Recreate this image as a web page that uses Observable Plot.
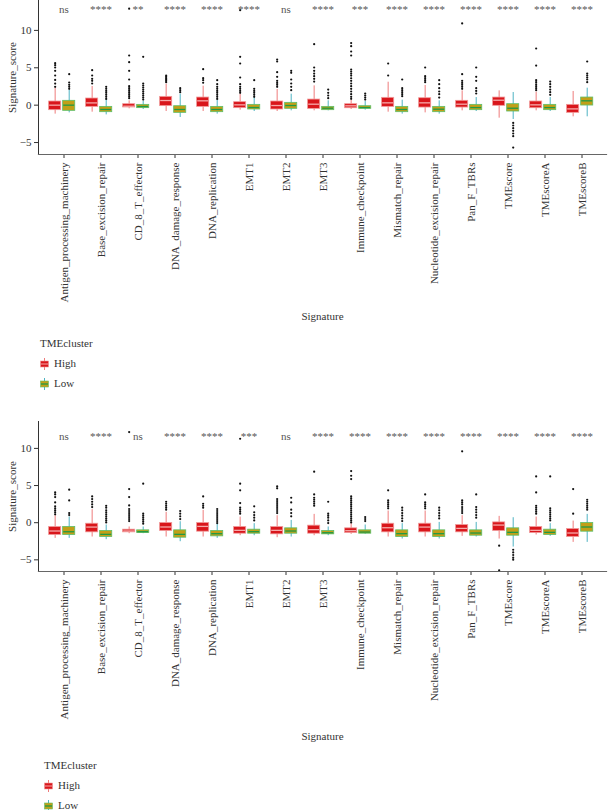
<!DOCTYPE html>
<html><head><meta charset="utf-8">
<script src="https://cdn.jsdelivr.net/npm/d3@7"></script>
<script src="https://cdn.jsdelivr.net/npm/@observablehq/plot@0.6"></script>
<style>
body{margin:0;background:#fff;font-family:"Liberation Serif",serif;}
#wrap{position:relative;width:609px;height:810px;overflow:hidden;background:#fff;}
.panel{position:absolute;left:0;}
.lg{position:absolute;font-size:11px;line-height:14px;color:#333;white-space:nowrap;}
.lg svg{vertical-align:middle;margin-right:5px;}
</style></head><body><div id="wrap"></div>
<script>
const signatures = ["Antigen_processing_machinery","Base_excision_repair","CD_8_T_effector","DNA_damage_response","DNA_replication","EMT1","EMT2","EMT3","Immune_checkpoint","Mismatch_repair","Nucleotide_excision_repair","Pan_F_TBRs","TMEscore","TMEscoreA","TMEscoreB"];
const clusters = ["High","Low"];
const yTicks = [-5,0,5,10];

// ---- top panel ----
const topSig = ["ns","****","**","****","****","****","ns","****","***","****","****","****","****","****","****"];
const topHighQ1  = [-0.67,-0.23,-0.31,-0.13,-0.23,-0.40,-0.58,-0.50,-0.41,-0.23,-0.32,-0.32,-0.09,-0.41,-1.03];
const topHighMed = [ 0.00, 0.30,-0.14, 0.62, 0.58, 0.04,-0.05, 0.13,-0.09, 0.31, 0.31, 0.13, 0.66, 0.04,-0.50];
const topHighQ3  = [ 0.49, 0.89, 0.13, 1.11, 1.02, 0.40, 0.49, 0.75, 0.13, 0.98, 0.93, 0.58, 1.02, 0.49, 0.04];
const topHighLo  = [-1.20,-0.94,-0.49,-0.85,-0.85,-0.67,-0.85,-0.76,-0.58,-0.94,-1.03,-0.76,-1.74,-0.76,-1.56];
const topHighHi  = [ 2.27, 2.50, 0.58, 2.80, 2.54, 1.47, 2.10, 2.58, 0.67, 3.07, 2.63, 1.91, 1.91, 1.74, 1.83];
const topHighOut = [
  [5.62,5.35,5.04,4.59,3.97,3.38,2.89,2.45],
  [4.68,3.97,3.52,3.25,2.9],
  [12.9,6.64,5.75,4.59,3.43,2.54,2.27,2.0,1.74,1.47,1.2,0.94],
  [3.97,3.79,3.61,3.43,3.25,3.08],
  [4.81,3.61,3.34,3.0],
  [12.7,6.46,5.57,3.7,2.81,2.45,2.18,1.91,1.65],
  [6.11,5.84,4.41,3.79,3.25,2.98,2.72,2.45],
  [8.16,5.04,4.59,4.23,3.88,3.52,3.16],
  [8.3,7.89,7.18,6.64,4.77,4.5,4.23,3.96,3.6,3.25,2.9,2.54,2.18,1.83,1.47,1.11,0.85],
  [5.57,3.97],
  [5.04,3.88,3.61,3.34,3.07],
  [10.93,4.15,3.25,2.98,2.72,2.45,2.18],
  [],
  [7.58,5.3,3.34,3.07,2.8,2.54,2.27,2.0],
  []
];
const topLowQ1  = [-0.76,-0.94,-0.40,-1.03,-0.94,-0.58,-0.49,-0.67,-0.49,-0.94,-0.94,-0.67,-0.85,-0.67,-0.05];
const topLowMed = [ 0.00,-0.58,-0.18,-0.58,-0.58,-0.31,-0.05,-0.41,-0.32,-0.58,-0.54,-0.32,-0.41,-0.32, 0.58];
const topLowQ3  = [ 0.58,-0.23, 0.04,-0.14,-0.23, 0.04, 0.31,-0.23,-0.14,-0.23,-0.23, 0.04, 0.13, 0.04, 1.02];
const topLowLo  = [-1.03,-1.30,-0.58,-1.65,-1.20,-0.85,-0.76,-0.76,-0.67,-1.20,-1.20,-0.85,-1.92,-0.85,-1.56];
const topLowHi  = [ 2.00, 0.75, 0.49, 1.47, 0.67, 1.02, 1.47, 0.58, 0.49, 0.67, 0.58, 1.02, 1.69, 1.02, 2.27];
const topLowOut = [
  [4.15,3.03,2.72,2.45,2.18],
  [2.45,2.18,1.91,1.65,1.38,1.11,0.84],
  [6.46,2.9,2.63,2.36,2.09,1.82,1.55,1.28,1.01,0.75],
  [2.27,2.0,1.74],
  [3.34,2.81,2.45,2.18,1.91,1.65,1.38,1.11,0.84],
  [3.34,2.18,1.91,1.65,1.38,1.11],
  [4.59,4.32,3.43,2.9,2.45,2.0],
  [2.09,1.65,1.29,0.93],
  [1.56,1.29,1.02,0.75],
  [3.43,2.27,2.0,1.74,1.47,1.2],
  [3.34,2.81,2.27,1.83,1.47,1.02],
  [5.04,3.79,3.25,2.27,1.91,1.56],
  [-2.37,-2.72,-3.08,-3.43,-3.79,-4.15,-5.68],
  [3.16,2.81,2.45,2.09,1.74,1.38],
  [5.84,4.23,3.97,3.7,3.43,3.07]
];

// ---- bottom panel ----
const botSig = ["ns","****","ns","****","****","***","ns","****","****","****","****","****","****","****","****"];
const botHighQ1  = [-1.66,-1.30,-1.30,-1.12,-1.21,-1.48,-1.57,-1.48,-1.39,-1.30,-1.30,-1.30,-1.12,-1.39,-1.93];
const botHighMed = [-1.12,-0.59,-1.12,-0.58,-0.50,-1.03,-1.03,-0.94,-1.08,-0.68,-0.59,-0.77,-0.32,-1.03,-1.39];
const botHighQ3  = [-0.58,-0.14,-0.94,-0.04,-0.04,-0.58,-0.58,-0.40,-0.76,-0.14,-0.14,-0.32, 0.04,-0.58,-0.85];
const botHighLo  = [-2.11,-1.93,-1.48,-1.93,-1.93,-1.75,-2.02,-1.75,-1.57,-1.93,-1.93,-1.84,-2.20,-1.66,-2.65];
const botHighHi  = [ 0.94, 1.75,-0.58, 1.39, 1.66, 0.76, 0.94, 1.12,-0.13, 1.57, 1.57, 0.94, 0.85, 0.76, 0.22];
const botHighOut = [
  [4.08,3.81,3.45,2.73,2.2,1.92,1.65,1.39,1.12],
  [3.54,3.18,2.82,2.46,2.1],
  [12.2,4.53,3.45,2.33,1.84,1.57,1.3,1.03,0.76,0.49,0.22],
  [2.82,2.55,2.28,2.02,1.75],
  [3.54,2.55,2.28,2.02],
  [11.3,5.25,4.35,2.64,2.02,1.75,1.48,1.21],
  [4.88,4.62,3.18,2.91,2.64,2.37,2.1,1.84,1.57,1.3],
  [6.86,3.81,3.36,3.09,2.82,2.55,2.28],
  [6.95,6.32,5.87,3.54,3.27,3.0,2.73,2.46,2.2,1.93,1.66,1.39,1.12,0.85,0.58,0.31,0.04],
  [4.35,3.0,2.73,2.46,2.2,1.93],
  [3.81,2.73,2.46,2.2,1.93],
  [9.6,3.0,2.73,2.46,2.1,1.84,1.57,1.3],
  [-3.1,-6.42],
  [6.23,4.08,2.28,2.02,1.75,1.48,1.21],
  [4.53,1.21]
];
const botLowQ1  = [-1.66,-1.93,-1.39,-2.02,-1.84,-1.48,-1.48,-1.57,-1.48,-1.93,-1.93,-1.75,-1.75,-1.66,-1.21];
const botLowMed = [-1.22,-1.57,-1.21,-1.57,-1.48,-1.21,-1.12,-1.35,-1.26,-1.48,-1.48,-1.39,-1.30,-1.30,-0.58];
const botLowQ3  = [-0.58,-1.12,-1.03,-1.03,-1.12,-0.94,-0.76,-1.12,-1.03,-1.03,-1.03,-1.03,-0.76,-0.94,-0.04];
const botLowLo  = [-2.11,-2.29,-1.48,-2.56,-2.11,-1.75,-1.93,-1.75,-1.57,-2.20,-2.20,-1.93,-3.28,-1.84,-2.65];
const botLowHi  = [ 0.76,-0.31,-0.58, 0.13,-0.13,-0.13, 0.31,-0.58,-0.31,-0.13, 0.04, 0.04, 0.67,-0.13, 1.12];
const botLowOut = [
  [4.44,3.0,1.3,1.03],
  [2.28,2.02,1.66,1.39,1.12,0.85,0.58,0.31,0.04],
  [5.25,1.21,0.94,0.67,0.4,0.13,-0.13],
  [1.57,1.21,0.85,0.49],
  [1.84,1.57,1.3,1.03,0.76,0.49,0.22,-0.05],
  [2.2,1.39,1.03,0.67,0.31],
  [3.36,2.73,1.75,1.3,0.85],
  [2.82,1.21,0.94,0.67,0.31,-0.05],
  [0.76,0.49,0.22],
  [2.02,1.66,1.3,0.94,0.58,0.22],
  [2.02,1.66,1.3,0.94,0.58],
  [3.81,2.1,1.75,1.39,1.03,0.67],
  [-3.64,-4.0,-4.35,-4.71,-4.98],
  [6.23,1.93,1.66,1.39,1.12,0.85,0.58,0.31],
  [3.09,2.82,2.55,2.28,2.02,1.75]
];

// ---- styles ----
const sty = {
  High: {fill:"#d9161b", stroke:"#f19a9a", med:"#f6a9a9", whisk:"#ee7b7b", dx:-8.85, inL:3.6, inR:21.3},
  Low:  {fill:"#c29f17", stroke:"#5cbf6a", med:"#1f9a45", whisk:"#4db3c2", dx:5.2, inL:17.65, inR:7.25}
};

function table(q1, med, q3, lo, hi) {
  return signatures.map((s, i) => ({sig: s, q1: q1[i], med: med[i], q3: q3[i], lo: lo[i], hi: hi[i]}));
}
function outs(arr) {
  return arr.flatMap((vals, i) => vals.map(v => ({sig: signatures[i], v})));
}

function groupMarks(stats, out, s) {
  return [
    Plot.ruleX(stats, {x: "sig", y1: "lo", y2: "hi", stroke: s.whisk, strokeWidth: 1, dx: s.dx}),
    Plot.dot(out, {x: "sig", y: "v", r: 1.1, fill: "#111", stroke: "none", dx: s.dx}),
    Plot.barY(stats, {x: "sig", y1: "q1", y2: "q3", fill: s.fill, stroke: s.stroke, strokeWidth: 0.8, insetLeft: s.inL, insetRight: s.inR}),
    Plot.tickY(stats, {x: "sig", y: "med", stroke: s.med, strokeWidth: 1.3, insetLeft: s.inL + 0.6, insetRight: s.inR + 0.6})
  ];
}

function panel(o) {
  return Plot.plot({
    width: 609, height: o.height,
    marginLeft: 38, marginRight: 3, marginTop: o.marginTop, marginBottom: o.marginBottom,
    style: {fontFamily: "'Liberation Serif', serif", fontSize: "11px", color: "#333", background: "#fff"},
    x: {type: "band", domain: signatures, paddingInner: 0, paddingOuter: 0.075, tickRotate: -90, tickSize: 4, tickPadding: 4,
        label: "Signature", labelAnchor: "center", labelArrow: "none", labelOffset: o.xLabelOffset},
    y: {domain: o.yDomain, ticks: yTicks, tickSize: 4, tickPadding: 3, label: "Signature_score", labelAnchor: "center", labelArrow: "none", labelOffset: 30},
    marks: [
      ...groupMarks(o.high, o.highOut, sty.High),
      ...groupMarks(o.low, o.lowOut, sty.Low),
      Plot.text(signatures, {x: d => d, text: (d, i) => o.sig[i], frameAnchor: "top", dy: o.sigDy, fontSize: 11, fill: "#555"}),
      Plot.frame({anchor: "left", stroke: "#333", strokeWidth: 1}),
      Plot.frame({anchor: "bottom", stroke: "#666", strokeWidth: 1.2})
    ]
  });
}

function legend(top, left) {
  const d = document.createElement("div");
  d.className = "lg"; d.style.top = top + "px"; d.style.left = left + "px";
  d.innerHTML =
    '<div style="height:20px">TMEcluster</div>' +
    '<div style="height:20px"><svg width="9" height="12"><line x1="4.5" x2="4.5" y1="0" y2="12" stroke="' + sty.High.whisk + '"/><rect x="0.5" y="3" width="8" height="6" fill="' + sty.High.fill + '" stroke="' + sty.High.stroke + '" stroke-width="0.6"/><line x1="1" x2="8" y1="6" y2="6" stroke="' + sty.High.med + '"/></svg>High</div>' +
    '<div style="height:20px"><svg width="9" height="12"><line x1="4.5" x2="4.5" y1="0" y2="12" stroke="' + sty.Low.whisk + '"/><rect x="0.5" y="3" width="8" height="6" fill="' + sty.Low.fill + '" stroke="' + sty.Low.stroke + '" stroke-width="0.6"/><line x1="1" x2="8" y1="6" y2="6" stroke="' + sty.Low.med + '" stroke-width="1.3"/></svg>Low</div>';
  return d;
}

const wrap = document.getElementById("wrap");

const p1 = panel({
  height: 330, marginTop: 0, marginBottom: 176, yDomain: [-6.6, 14.0], xLabelOffset: 165, sigDy: 5,
  sig: topSig,
  high: table(topHighQ1, topHighMed, topHighQ3, topHighLo, topHighHi), highOut: outs(topHighOut),
  low: table(topLowQ1, topLowMed, topLowQ3, topLowLo, topLowHi), lowOut: outs(topLowOut)
});
p1.classList.add("panel"); p1.style.top = "0px";
wrap.appendChild(p1);
wrap.appendChild(legend(336, 40));

const p2 = panel({
  height: 345, marginTop: 16, marginBottom: 179, yDomain: [-6.57, 13.62], xLabelOffset: 168, sigDy: 10.7,
  sig: botSig,
  high: table(botHighQ1, botHighMed, botHighQ3, botHighLo, botHighHi), highOut: outs(botHighOut),
  low: table(botLowQ1, botLowMed, botLowQ3, botLowLo, botLowHi), lowOut: outs(botLowOut)
});
p2.classList.add("panel"); p2.style.top = "405px";
wrap.appendChild(p2);
wrap.appendChild(legend(758, 44));
</script></body></html>
